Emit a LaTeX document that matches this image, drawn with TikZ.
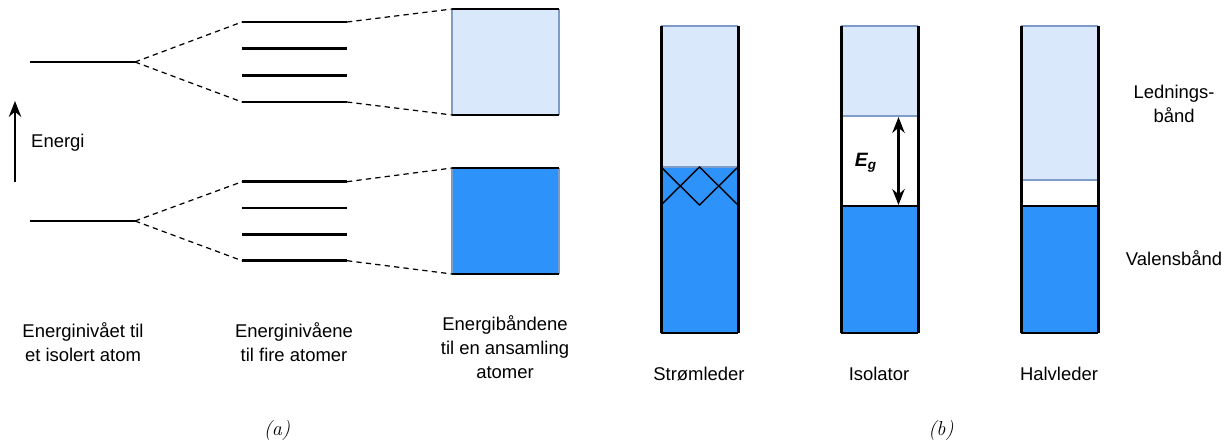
\documentclass[tikz,border=0pt]{standalone}
\usepackage{fontspec}
\setsansfont{Liberation Sans}
\usetikzlibrary{arrows.meta}

\definecolor{ledband}{HTML}{DAE8FC}
\definecolor{valband}{HTML}{2D92F9}
\definecolor{bandedge}{HTML}{7E9CC8}

\begin{document}
\begin{tikzpicture}[x=0.02cm,y=-0.02cm,
    level/.style={line width=1.7pt},
    split/.style={line width=0.7pt,dash pattern=on 3pt off 2.4pt},
    edge/.style={line width=0.6pt,draw=bandedge},
    wall/.style={line width=1.7pt},
    lbl/.style={font=\sffamily\fontsize{10.5}{13.6}\selectfont,align=center},
    sub/.style={font=\itshape\fontsize{11.5}{14}\selectfont}]

\useasboundingbox (0,0) rectangle (1226,443);

% (a) enkelt atom
\coordinate (s1a) at (30,62);
\coordinate (s1b) at (135,62);
\coordinate (s2a) at (30,221);
\coordinate (s2b) at (135,221);
\draw[level] (s1a) -- (s1b);
\draw[level] (s2a) -- (s2b);

\coordinate (e0) at (15,182);
\coordinate (e1) at (15,101);
\draw[line width=1.5pt,-{Stealth[length=9pt,width=7pt]}] (e0) -- (e1);
\node[lbl,anchor=west] (energi) at (25,143) {Energi};

% (a) fire atomer
\foreach \y [count=\i] in {22,48.7,75.3,102} {
    \coordinate (u\i a) at (242,\y);
    \coordinate (u\i b) at (347,\y);
    \draw[level] (u\i a) -- (u\i b);
}
\foreach \y [count=\i] in {181.7,208,234.3,260.7} {
    \coordinate (l\i a) at (242,\y);
    \coordinate (l\i b) at (347,\y);
    \draw[level] (l\i a) -- (l\i b);
}

% (a) baand
\coordinate (ub1) at (452,9);
\coordinate (ub2) at (559,9);
\coordinate (ub3) at (559,115);
\coordinate (ub4) at (452,115);
\fill[ledband] (ub1) rectangle (ub3);
\draw[edge] (ub1) -- (ub4) (ub2) -- (ub3);
\draw[level] (ub1) -- (ub2) (ub4) -- (ub3);

\coordinate (lb1) at (452,168);
\coordinate (lb2) at (559,168);
\coordinate (lb3) at (559,274);
\coordinate (lb4) at (452,274);
\fill[valband] (lb1) rectangle (lb3);
\draw[edge] (lb1) -- (lb4) (lb2) -- (lb3);
\draw[level] (lb1) -- (lb2) (lb4) -- (lb3);

\draw[split] (s1b) -- (u1a) (s1b) -- (u4a);
\draw[split] (s2b) -- (l1a) (s2b) -- (l4a);
\draw[split] (u1b) -- (ub1) (u4b) -- (ub4);
\draw[split] (l1b) -- (lb1) (l4b) -- (lb4);

\node[lbl] (t1) at (83,342) {Energinivået til\\et isolert atom};
\node[lbl] (t2) at (294,342) {Energinivåene\\til fire atomer};
\node[lbl] (t3) at (505,347) {Energibåndene\\til en ansamling\\atomer};
\node[sub] (suba) at (277,430) {(a)};

% (b) stroemleder
\fill[ledband] (661,26) rectangle (738,167);
\fill[valband] (661,167) rectangle (738,333);
\draw[edge] (661,26) -- (738,26) (661,167) -- (738,167);
\coordinate (x1) at (661,167);
\coordinate (x2) at (699.5,167);
\coordinate (x3) at (738,167);
\coordinate (x4) at (661,205);
\coordinate (x5) at (699.5,205);
\coordinate (x6) at (738,205);
\draw[line width=0.8pt] (x1) -- (x5) -- (x3) (x4) -- (x2) -- (x6);
\draw[wall] (661,26) -- (661,333) (738,26) -- (738,333);
\draw[line width=1pt] (661,333) -- (738,333);

% (b) isolator
\fill[ledband] (841,26) rectangle (918,116);
\fill[valband] (841,206) rectangle (918,333);
\draw[edge] (841,26) -- (918,26) (841,116) -- (918,116);
\draw[line width=0.8pt] (841,206) -- (918,206);
\draw[wall] (841,26) -- (841,333) (918,26) -- (918,333);
\draw[line width=1pt] (841,333) -- (918,333);
\coordinate (g1) at (898.5,117);
\coordinate (g2) at (898.5,205);
\draw[line width=1.5pt,{Stealth[length=9pt,width=7pt]}-{Stealth[length=9pt,width=7pt]}] (g1) -- (g2);
\node[font=\sffamily\bfseries\itshape\fontsize{11}{13}\selectfont] (eg) at (866,163) {E\textsubscript{g}};

% (b) halvleder
\fill[ledband] (1021,26) rectangle (1098,180);
\fill[valband] (1021,206) rectangle (1098,333);
\draw[edge] (1021,26) -- (1098,26) (1021,180) -- (1098,180);
\draw[line width=0.8pt] (1021,206) -- (1098,206);
\draw[wall] (1021,26) -- (1021,333) (1098,26) -- (1098,333);
\draw[line width=1pt] (1021,333) -- (1098,333);

\node[lbl] (led) at (1174,104) {Lednings-\\bånd};
\node[lbl] (val) at (1174,258) {Valensbånd};

\node[lbl] (c1) at (699,374) {Strømleder};
\node[lbl] (c2) at (879,374) {Isolator};
\node[lbl] (c3) at (1059,374) {Halvleder};
\node[sub] (subb) at (941,430) {(b)};

\end{tikzpicture}
\end{document}
